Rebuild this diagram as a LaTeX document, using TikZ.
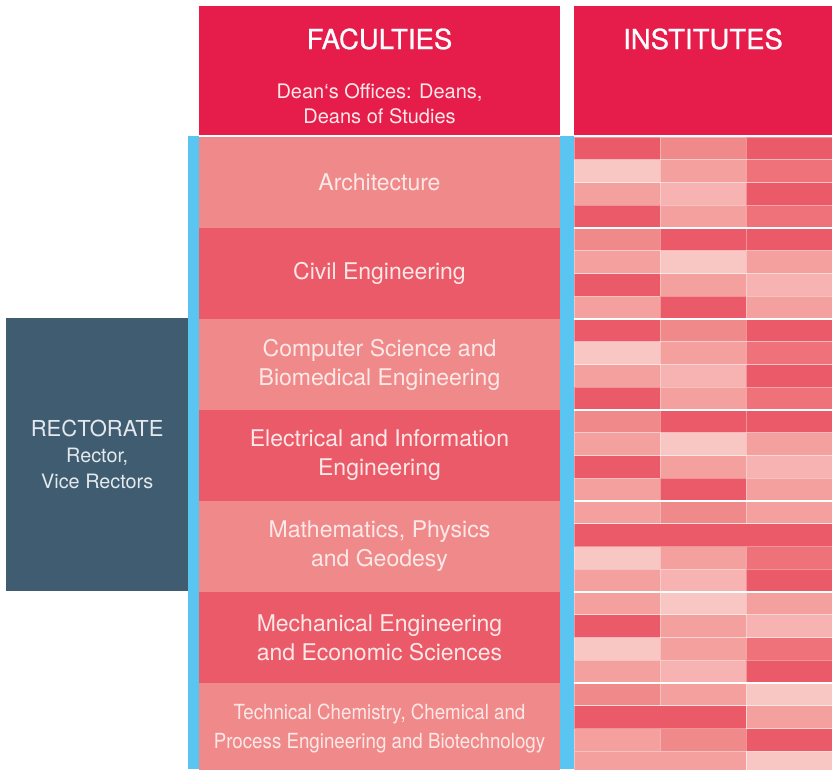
\documentclass[tikz,border=0pt]{standalone}
\usepackage{fontspec}
\setmainfont{TeX Gyre Heros}
\newfontfamily\headfont[FakeBold=0.8]{TeX Gyre Heros}
\newfontfamily\condfont[FakeStretch=0.9]{TeX Gyre Heros}
\usepackage{tikz}

\definecolor{headRed}{RGB}{230,28,75}
\definecolor{facLight}{RGB}{240,138,138}
\definecolor{facDark}{RGB}{235,90,104}
\definecolor{barBlue}{RGB}{91,197,242}
\definecolor{rectBlue}{RGB}{63,92,113}
\definecolor{facText}{RGB}{253,232,232}
\definecolor{rectText}{RGB}{228,233,237}
% institute cell shades
\definecolor{cA}{RGB}{235,90,104}
\definecolor{cB}{RGB}{240,138,138}
\definecolor{cC}{RGB}{244,160,158}
\definecolor{cD}{RGB}{246,179,177}
\definecolor{cE}{RGB}{248,198,195}
\definecolor{cF}{RGB}{239,114,122}

\begin{document}
\begin{tikzpicture}[x=1pt,y=1pt,
    headbox/.style={fill=headRed, minimum height=129pt, inner sep=0pt},
    facbox/.style={minimum width=361pt, minimum height=91pt, inner sep=0pt, align=center, text=facText, font=\fontsize{23}{29}\selectfont},
    rectbox/.style={fill=rectBlue, minimum width=182.3pt, minimum height=272.7pt, inner sep=0pt, align=center, text=rectText, font=\fontsize{19.8}{26}\selectfont},
    cell/.style={draw=white, draw opacity=0.35, line width=0.6pt}]
    \useasboundingbox (0,0) rectangle (832,-769);

    % headers
    \node[headbox, minimum width=361pt] (facHead) at (379.5,-70.5) {};
    \node[headbox, minimum width=258pt] (insHead) at (703,-70.5) {};
    \node (facTitle) at (379.5,-49) [anchor=base, text=white, font=\headfont\fontsize{27.5}{30}\selectfont] {FACULTIES};
    \node (insTitle) at (703,-49) [anchor=base, text=white, font=\headfont\fontsize{27.5}{30}\selectfont] {INSTITUTES};
    \node (deans) at (379.5,-103.3) [align=center, inner sep=0pt, text=facText, font=\fontsize{20}{25}\selectfont] {Dean‘s Offices: Deans,\\Deans of Studies};

    % blue bars
    \fill[barBlue] (188.3,-136) rectangle (198.6,-769);
    \fill[barBlue] (560,-136) rectangle (574.3,-769);

    % faculties
    \node[facbox, fill=facLight] (arch) at (379.5,-182.5) {Architecture};
    \node[facbox, fill=facDark] (civil) at (379.5,-273.5) {Civil Engineering};
    \node[facbox, fill=facLight] (compsci) at (379.5,-364.5) {Computer Science and\\Biomedical Engineering};
    \node[facbox, fill=facDark] (elec) at (379.5,-455.5) {Electrical and Information\\Engineering};
    \node[facbox, fill=facLight] (math) at (379.5,-546.5) {Mathematics, Physics\\and Geodesy};
    \node[facbox, fill=facDark] (mech) at (379.5,-637.5) {Mechanical Engineering\\and Economic Sciences};
    \node[facbox, fill=facLight, font=\condfont\fontsize{20.8}{29}\selectfont] (chem) at (379.5,-728.5) {Technical Chemistry, Chemical and\\Process Engineering and Biotechnology};

    % rectorate
    \node[rectbox] (rector) at (97.2,-454.4) {{\fontsize{22}{26}\selectfont RECTORATE}\\Rector,\\Vice Rectors};

    % institutes grid
    \foreach \colrow [count=\i from 0] in {
        {cA,cB,cA},{cE,cC,cF},{cC,cD,cA},{cA,cC,cF},
        {cB,cA,cA},{cC,cE,cC},{cA,cC,cD},{cC,cA,cC},
        {cA,cB,cA},{cE,cC,cF},{cC,cD,cA},{cA,cC,cF},
        {cB,cA,cA},{cC,cE,cC},{cA,cC,cD},{cC,cA,cC},
        {cC,cB,cC},{cA,cA,cA},{cE,cC,cF},{cC,cD,cA},
        {cC,cE,cC},{cA,cC,cD},{cE,cC,cF},{cC,cD,cA},
        {cB,cC,cE},{cA,cA,cC},{cC,cB,cA},{cC,cC,cE}} {
        \pgfmathtruncatemacro{\grp}{int(\i/4)}
        \pgfmathsetmacro{\rowtop}{137+91*\grp+22.75*(\i-4*\grp)}
        \foreach \cc [count=\col from 0] in \colrow
            \draw[cell, fill=\cc] (574+86*\col,-\rowtop) rectangle ++(86,-22.75);
    }
    % merged cells
    \draw[cell, fill=cA] (574,-523.75) rectangle ++(258,-22.75);
    \draw[cell, fill=cA] (574,-705.75) rectangle ++(172,-22.75);
    \draw[cell, fill=cC] (574,-751.25) rectangle ++(172,-22.75);

    % gaps between faculty groups
    \foreach \grp in {1,...,6}
        \draw[white, line width=2pt] (574,-137-91*\grp) -- (832,-137-91*\grp);
\end{tikzpicture}
\end{document}
